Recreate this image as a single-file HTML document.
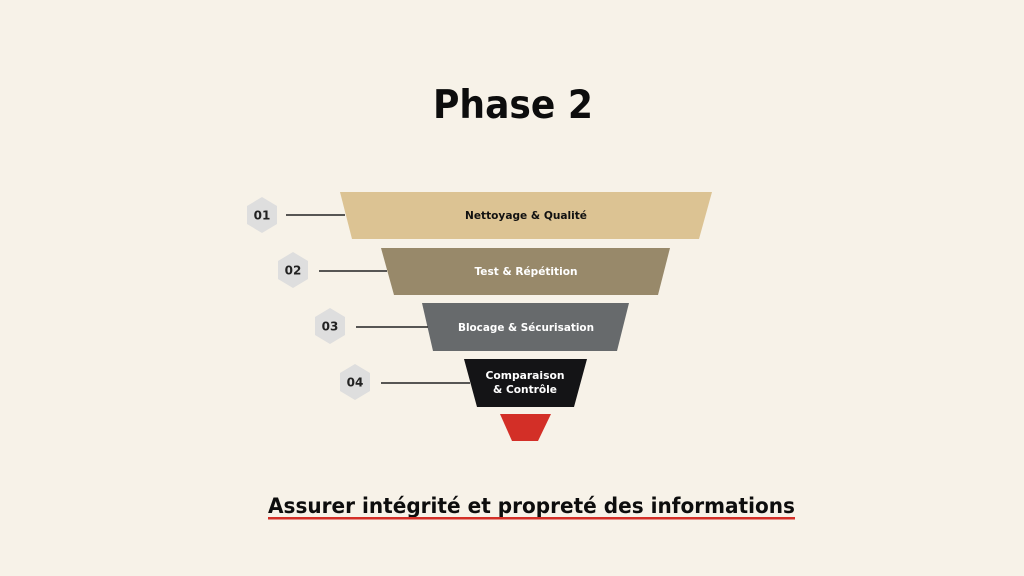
<!DOCTYPE html>
<html><head><meta charset="utf-8"><style>
html,body{margin:0;padding:0;background:#f7f2e8;}
svg{display:block}
text{font-family:"DejaVu Sans","Liberation Sans",sans-serif;font-weight:bold}
</style></head><body>
<svg width="1024" height="576" viewBox="0 0 1024 576" xmlns="http://www.w3.org/2000/svg">
<rect width="1024" height="576" fill="#f7f2e8"/>
<text x="513" y="118" font-size="39" text-anchor="middle" fill="#0d0d0d" textLength="160" lengthAdjust="spacingAndGlyphs">Phase 2</text>

<polygon points="340,192 712,192 699,239 352,239" fill="#dcc393"/>
<polygon points="381,248 670,248 658,295 394,295" fill="#98896a"/>
<polygon points="422,303 629,303 617,351 433,351" fill="#676a6c"/>
<polygon points="464,359 587,359 574,407 477,407" fill="#141416"/>
<polygon points="500,414 551,414 538,441 512,441" fill="#d32f27"/>

<g stroke="#222" stroke-width="1.5">
<line x1="286" y1="215" x2="345" y2="215"/>
<line x1="319" y1="271" x2="387" y2="271"/>
<line x1="356" y1="327" x2="428" y2="327"/>
<line x1="381" y1="383" x2="470" y2="383"/>
</g>

<g fill="#dedede">
<polygon points="262,197 277,206 277,224 262,233 247,224 247,206"/>
<polygon points="293,252 308,261 308,279 293,288 278,279 278,261"/>
<polygon points="330,308 345,317 345,335 330,344 315,335 315,317"/>
<polygon points="355,364 370,373 370,391 355,400 340,391 340,373"/>
</g>
<g font-size="12" fill="#222" text-anchor="middle" style="font-weight:normal">
<text x="262" y="219.5" style="font-weight:600">01</text>
<text x="293" y="274.5" style="font-weight:600">02</text>
<text x="330" y="330.5" style="font-weight:600">03</text>
<text x="355" y="386.5" style="font-weight:600">04</text>
</g>

<g font-size="11" text-anchor="middle">
<text x="526" y="219" fill="#111" textLength="122" lengthAdjust="spacingAndGlyphs">Nettoyage &amp; Qualité</text>
<text x="526" y="275" fill="#fff" textLength="103" lengthAdjust="spacingAndGlyphs">Test &amp; Répétition</text>
<text x="526" y="331" fill="#fff" textLength="136" lengthAdjust="spacingAndGlyphs">Blocage &amp; Sécurisation</text>
<text x="525" y="379" fill="#fff" textLength="79" lengthAdjust="spacingAndGlyphs">Comparaison</text>
<text x="525" y="393" fill="#fff" textLength="64" lengthAdjust="spacingAndGlyphs">&amp; Contrôle</text>
</g>

<text x="268" y="513" font-size="21.5" fill="#0d0d0d" textLength="527" lengthAdjust="spacingAndGlyphs">Assurer intégrité et propreté des informations</text>
<rect x="268" y="517" width="527" height="2.5" fill="#d32f27"/>
</svg>
</body></html>
